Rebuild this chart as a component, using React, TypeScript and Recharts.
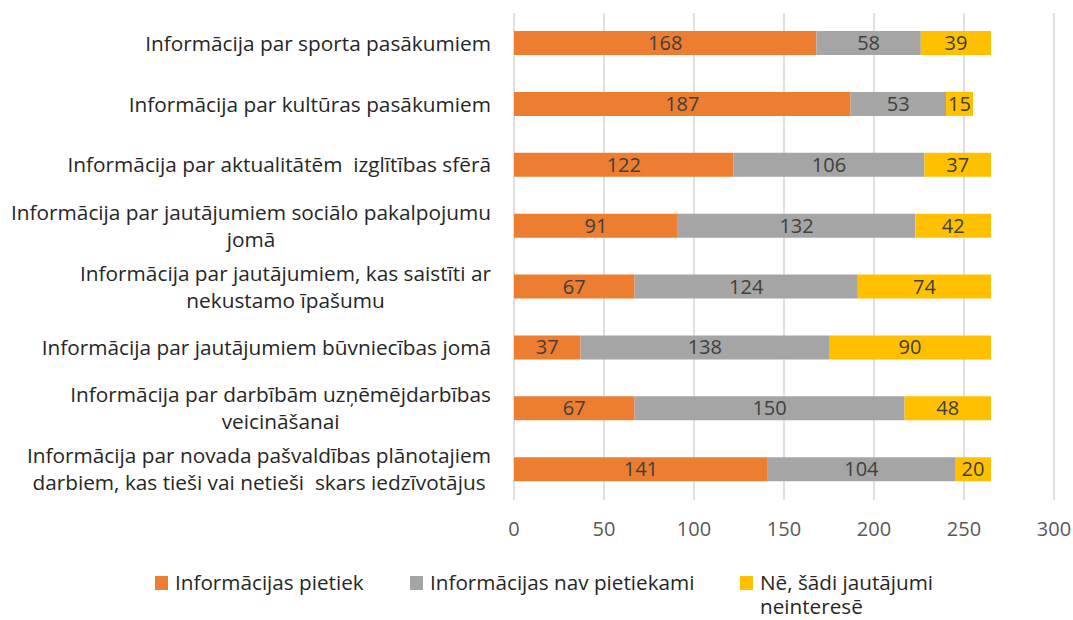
import React from 'react';
import { BarChart, Bar, XAxis, YAxis, CartesianGrid, Legend, LabelList } from 'recharts';

const categories = [
  'Informācija par sporta pasākumiem',
  'Informācija par kultūras pasākumiem',
  'Informācija par aktualitātēm  izglītības sfērā',
  'Informācija par jautājumiem sociālo pakalpojumu\njomā',
  'Informācija par jautājumiem, kas saistīti ar\nnekustamo īpašumu',
  'Informācija par jautājumiem būvniecības jomā',
  'Informācija par darbībām uzņēmējdarbības\nveicināšanai',
  'Informācija par novada pašvaldības plānotajiem\ndarbiem, kas tieši vai netieši  skars iedzīvotājus',
];
const pietiek = [168, 187, 122, 91, 67, 37, 67, 141];
const navPietiekami = [58, 53, 106, 132, 124, 138, 150, 104];
const neinterese = [39, 15, 37, 42, 74, 90, 48, 20];
const xTicks = [0, 50, 100, 150, 200, 250, 300];
const seriesNames = ['Informācijas pietiek', 'Informācijas nav pietiekami', 'Nē, šādi jautājumi neinteresē'];
const seriesColors = ['#ED7D31', '#A5A5A5', '#FFC000'];

const data = categories.map((c, i) => ({
  name: c,
  a: pietiek[i],
  b: navPietiekami[i],
  c: neinterese[i],
}));

const FONT = '"Open Sans", sans-serif';
const TICK_SIZE = 20.8;

let canvasCtx: CanvasRenderingContext2D | null = null;
function measure(text: string, size: number): number {
  if (!canvasCtx) {
    const cv = document.createElement('canvas');
    canvasCtx = cv.getContext('2d');
  }
  if (!canvasCtx) return text.length * size * 0.5;
  canvasCtx.font = `${size}px ${FONT}`;
  return canvasCtx.measureText(text).width;
}

const CategoryTick = (props: any) => {
  const { x, y, payload } = props;
  const lines: string[] = String(payload.value).split('\n');
  const maxW = Math.max(...lines.map((l) => measure(l, TICK_SIZE)));
  const cx = x - maxW / 2;
  const lh = 27;
  const startY = y - ((lines.length - 1) * lh) / 2;
  return (
    <text fill="#262626" fontSize={TICK_SIZE} fontFamily={FONT} textAnchor="middle">
      {lines.map((l, i) => (
        <tspan key={i} x={cx} y={startY + i * lh} dy="0.35em" style={{ whiteSpace: 'pre' }}>
          {l}
        </tspan>
      ))}
    </text>
  );
};

const legendLefts = [155, 410, 740];

const LegendContent = (props: any) => {
  const payload = [...(props.payload || [])].sort(
    (p: any, q: any) => seriesNames.indexOf(p.value) - seriesNames.indexOf(q.value)
  );
  return (
    <div style={{ position: 'relative', height: 80, width: 1073, fontFamily: FONT, fontSize: 20.7, color: '#262626' }}>
      {payload.map((p: any, i: number) => (
        <div
          key={i}
          style={{ position: 'absolute', left: legendLefts[i], top: 30, width: i === 2 ? 215 : 340, display: 'flex', alignItems: 'flex-start' }}
        >
          <div style={{ width: 13, height: 14, background: p.color, marginTop: 6, marginRight: 7, flex: 'none' }} />
          <div style={{ lineHeight: '24px' }}>{p.value}</div>
        </div>
      ))}
    </div>
  );
};

export default function App() {
  return (
    <div style={{ position: 'fixed', left: 0, top: 0, width: 1073, height: 620, background: '#fff' }}>
      <BarChart
        width={1073}
        height={620}
        data={data}
        layout="vertical"
        margin={{ top: 13, right: 19, bottom: 0, left: 0 }}
      >
        <CartesianGrid horizontal={false} stroke="#D9D9D9" strokeWidth={1.6} />
        <XAxis
          type="number"
          domain={[0, 300]}
          ticks={xTicks}
          axisLine={false}
          tickLine={false}
          height={40}
          tick={{ fill: '#595959', fontSize: 20, fontFamily: FONT }}
          tickMargin={16}
          interval={0}
        />
        <YAxis
          type="category"
          dataKey="name"
          width={514}
          axisLine={false}
          tickLine={false}
          tickSize={0}
          tickMargin={23}
          tick={<CategoryTick />}
          interval={0}
        />
        <Legend verticalAlign="bottom" align="left" content={<LegendContent />} wrapperStyle={{ left: 0, width: 1073 }} />
        <Bar dataKey="a" name={seriesNames[0]} stackId="s" fill={seriesColors[0]} barSize={24} isAnimationActive={false}>
          <LabelList dataKey="a" position="center" fill="#404040" fontSize={20} fontFamily={FONT} />
        </Bar>
        <Bar dataKey="b" name={seriesNames[1]} stackId="s" fill={seriesColors[1]} barSize={24} isAnimationActive={false}>
          <LabelList dataKey="b" position="center" fill="#404040" fontSize={20} fontFamily={FONT} />
        </Bar>
        <Bar dataKey="c" name={seriesNames[2]} stackId="s" fill={seriesColors[2]} barSize={24} isAnimationActive={false}>
          <LabelList dataKey="c" position="center" fill="#404040" fontSize={20} fontFamily={FONT} />
        </Bar>
      </BarChart>
    </div>
  );
}
